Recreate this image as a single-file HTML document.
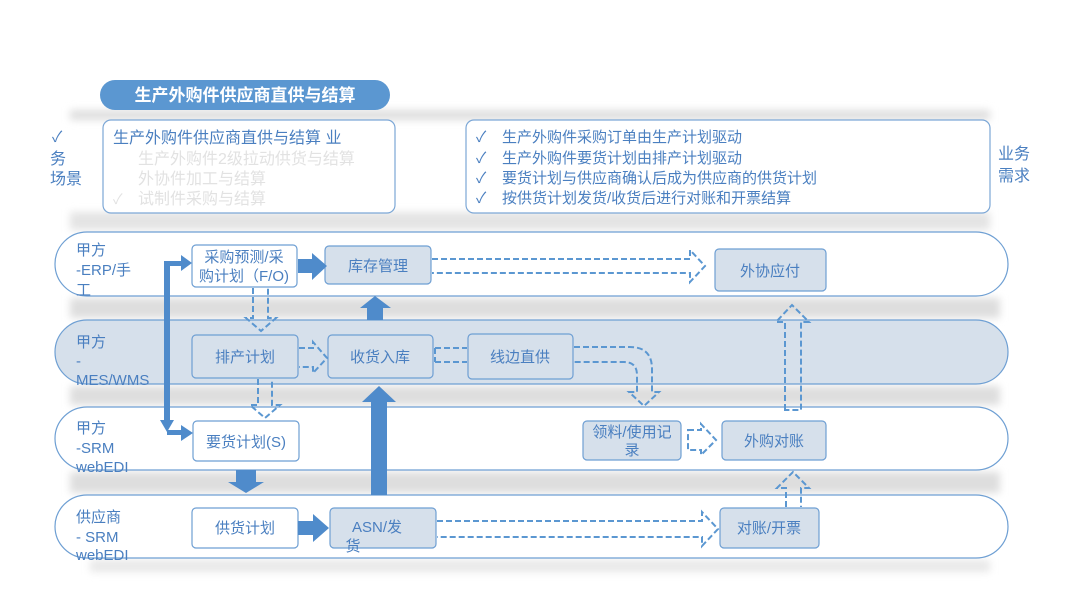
<!DOCTYPE html>
<html><head><meta charset="utf-8"><style>
html,body{margin:0;padding:0;background:#fff;}
svg{display:block;}
text{font-family:"Liberation Sans","Noto Sans CJK SC",sans-serif;}
</style></head><body>
<svg width="1080" height="608" viewBox="0 0 1080 608" xmlns="http://www.w3.org/2000/svg">
<defs>
<filter id="bl" x="-10%" y="-50%" width="120%" height="200%"><feGaussianBlur stdDeviation="4"/></filter>
</defs>
<rect width="1080" height="608" fill="#fff"/>
<g filter="url(#bl)" fill="#dedede">
<rect x="70" y="110" width="920" height="10"/>
<rect x="70" y="212" width="920" height="18" fill="#e4e4e4"/>
<rect x="70" y="298" width="930" height="20"/>
<rect x="70" y="386" width="930" height="19"/>
<rect x="70" y="472" width="930" height="21"/>
<rect x="90" y="560" width="900" height="12" fill="#e8e8e8"/>
</g>
<rect x="100" y="80" width="290" height="30" rx="15" fill="#5b97d1"/>
<text x="245" y="101" font-size="17" font-weight="bold" fill="#fff" text-anchor="middle">生产外购件供应商直供与结算</text>
<text x="52" y="142" font-size="15" fill="#4a7fc0">✓</text>
<text x="50" y="164" font-size="16" fill="#4a7fc0">务</text>
<text x="50" y="184" font-size="16" fill="#4a7fc0">场景</text>
<rect x="103" y="120" width="292" height="93" rx="8" fill="#fff" stroke="#7ca7d6" stroke-width="1.2"/>
<text x="113" y="143" font-size="16" fill="#4a7fc0">生产外购件供应商直供与结算 业</text>
<text x="138" y="164" font-size="16" fill="#e2e2e2">生产外购件2级拉动供货与结算</text>
<text x="138" y="184" font-size="16" fill="#e2e2e2">外协件加工与结算</text>
<text x="113" y="204" font-size="14" fill="#e2e2e2">✓</text>
<text x="138" y="204" font-size="16" fill="#e2e2e2">试制件采购与结算</text>
<rect x="466" y="120" width="524" height="93" rx="8" fill="#fff" stroke="#7ca7d6" stroke-width="1.2"/>
<g font-size="15" fill="#4a7fc0">
<text x="476" y="142">✓</text><text x="502" y="142">生产外购件采购订单由生产计划驱动</text>
<text x="476" y="163">✓</text><text x="502" y="163">生产外购件要货计划由排产计划驱动</text>
<text x="476" y="183">✓</text><text x="502" y="183">要货计划与供应商确认后成为供应商的供货计划</text>
<text x="476" y="203">✓</text><text x="502" y="203">按供货计划发货/收货后进行对账和开票结算</text>
</g>
<text x="998" y="159" font-size="16" fill="#4a7fc0">业务</text>
<text x="998" y="181" font-size="16" fill="#4a7fc0">需求</text>
<g stroke="#6e9fd3" stroke-width="1.2">
<rect x="55" y="232" width="953" height="64" rx="32" fill="#fff"/>
<rect x="55" y="320" width="953" height="64" rx="32" fill="#d6e0eb"/>
<rect x="55" y="407" width="953" height="63" rx="32" fill="#fff"/>
<rect x="55" y="495" width="953" height="63" rx="32" fill="#fff"/>
</g>
<g font-size="15" fill="#4a7fc0">
<text x="76" y="255">甲方</text><text x="76" y="275">-ERP/手</text><text x="76" y="295">工</text>
<text x="76" y="347">甲方</text><text x="76" y="366">-</text><text x="76" y="385">MES/WMS</text>
<text x="76" y="433">甲方</text><text x="76" y="453">-SRM</text><text x="76" y="472">webEDI</text>
<text x="76" y="522">供应商</text><text x="76" y="542">- SRM</text><text x="76" y="560">webEDI</text>
</g>
<g stroke="#6e9fd3" stroke-width="1.2">
<rect x="192" y="245" width="105" height="42" rx="4" fill="#fff"/>
<rect x="325" y="246" width="106" height="38" rx="4" fill="#d6e0eb"/>
<rect x="715" y="249" width="111" height="42" rx="4" fill="#d6e0eb"/>
<rect x="192" y="335" width="106" height="43" rx="4" fill="#d6e0eb"/>
<rect x="328" y="335" width="105" height="43" rx="4" fill="#d6e0eb"/>
<rect x="468" y="334" width="105" height="45" rx="4" fill="#d6e0eb"/>
<rect x="193" y="421" width="106" height="40" rx="4" fill="#fff"/>
<rect x="583" y="421" width="98" height="39" rx="4" fill="#d6e0eb"/>
<rect x="722" y="421" width="104" height="39" rx="4" fill="#d6e0eb"/>
<rect x="192" y="508" width="106" height="40" rx="4" fill="#fff"/>
<rect x="330" y="508" width="106" height="40" rx="4" fill="#d6e0eb"/>
<rect x="720" y="508" width="99" height="40" rx="4" fill="#d6e0eb"/>
</g>
<g font-size="15" fill="#4a7fc0" text-anchor="middle">
<text x="244" y="262">采购预测/采</text><text x="244" y="281">购计划（F/O)</text>
<text x="378" y="271">库存管理</text>
<text x="770" y="276">外协应付</text>
<text x="245" y="362">排产计划</text>
<text x="380" y="362">收货入库</text>
<text x="520" y="362">线边直供</text>
<text x="246" y="447">要货计划(S)</text>
<text x="632" y="437">领料/使用记</text><text x="632" y="455">录</text>
<text x="774" y="446">外购对账</text>
<text x="245" y="533">供货计划</text>
<text x="377" y="532">ASN/发</text><text x="353" y="551">货</text>
<text x="769" y="533">对账/开票</text>
</g>
<g fill="#4f8bcb">
<polygon points="298,259 312,259 312,253 327,266 312,280 312,273 298,273"/>
<polygon points="298,521 313,521 313,514 329,528 313,542 313,535 298,535"/>
<polygon points="367,320 367,308 360,308 375,296 391,308 383,308 383,320"/>
<polygon points="371,495 371,402 362,402 379,386 396,402 387,402 387,495"/>
<polygon points="236,470 256,470 256,482 264,482 246,493 228,482 236,482"/>
<rect x="164" y="261" width="6" height="165"/>
<rect x="164" y="261" width="18" height="5"/>
<polygon points="181,255 192,263 181,271"/>
<polygon points="160,420 174,420 167,432"/>
<rect x="167" y="430" width="15" height="5"/>
<polygon points="181,425 193,433 181,441"/>
</g>
<g fill="none" stroke="#5b97d1" stroke-width="2" stroke-dasharray="6,3">
<path d="M432,259 H690 V250 L705,266 L690,282 V273 H432"/>
<path d="M437,521 H702 V512 L718,529 L702,546 V537 H437"/>
<path d="M253,288 V318 H246 L261,331 L276,318 H268 V288"/>
<path d="M258,379 V405 H250 L265,418 L280,405 H272 V379"/>
<path d="M299,348 H313 V342 L327,358 L313,373 V367 H299"/>
<path d="M435,348 H467 M435,362 H467 M435,348 V362"/>
<path d="M574,347 H630 Q652,347 652,369 V392 H659 L644,406 L629,392 H637 V375 Q637,362 624,362 H574"/>
<path d="M688,430 H701 V424 L716,440 L701,455 V450 H688 Z"/>
<path d="M785,410 V322 H776 L792,305 L809,322 H801 V410 Z"/>
<path d="M786,507 V488 H777 L793,472 L809,488 H801 V507"/>
</g>
</svg>
</body></html>
